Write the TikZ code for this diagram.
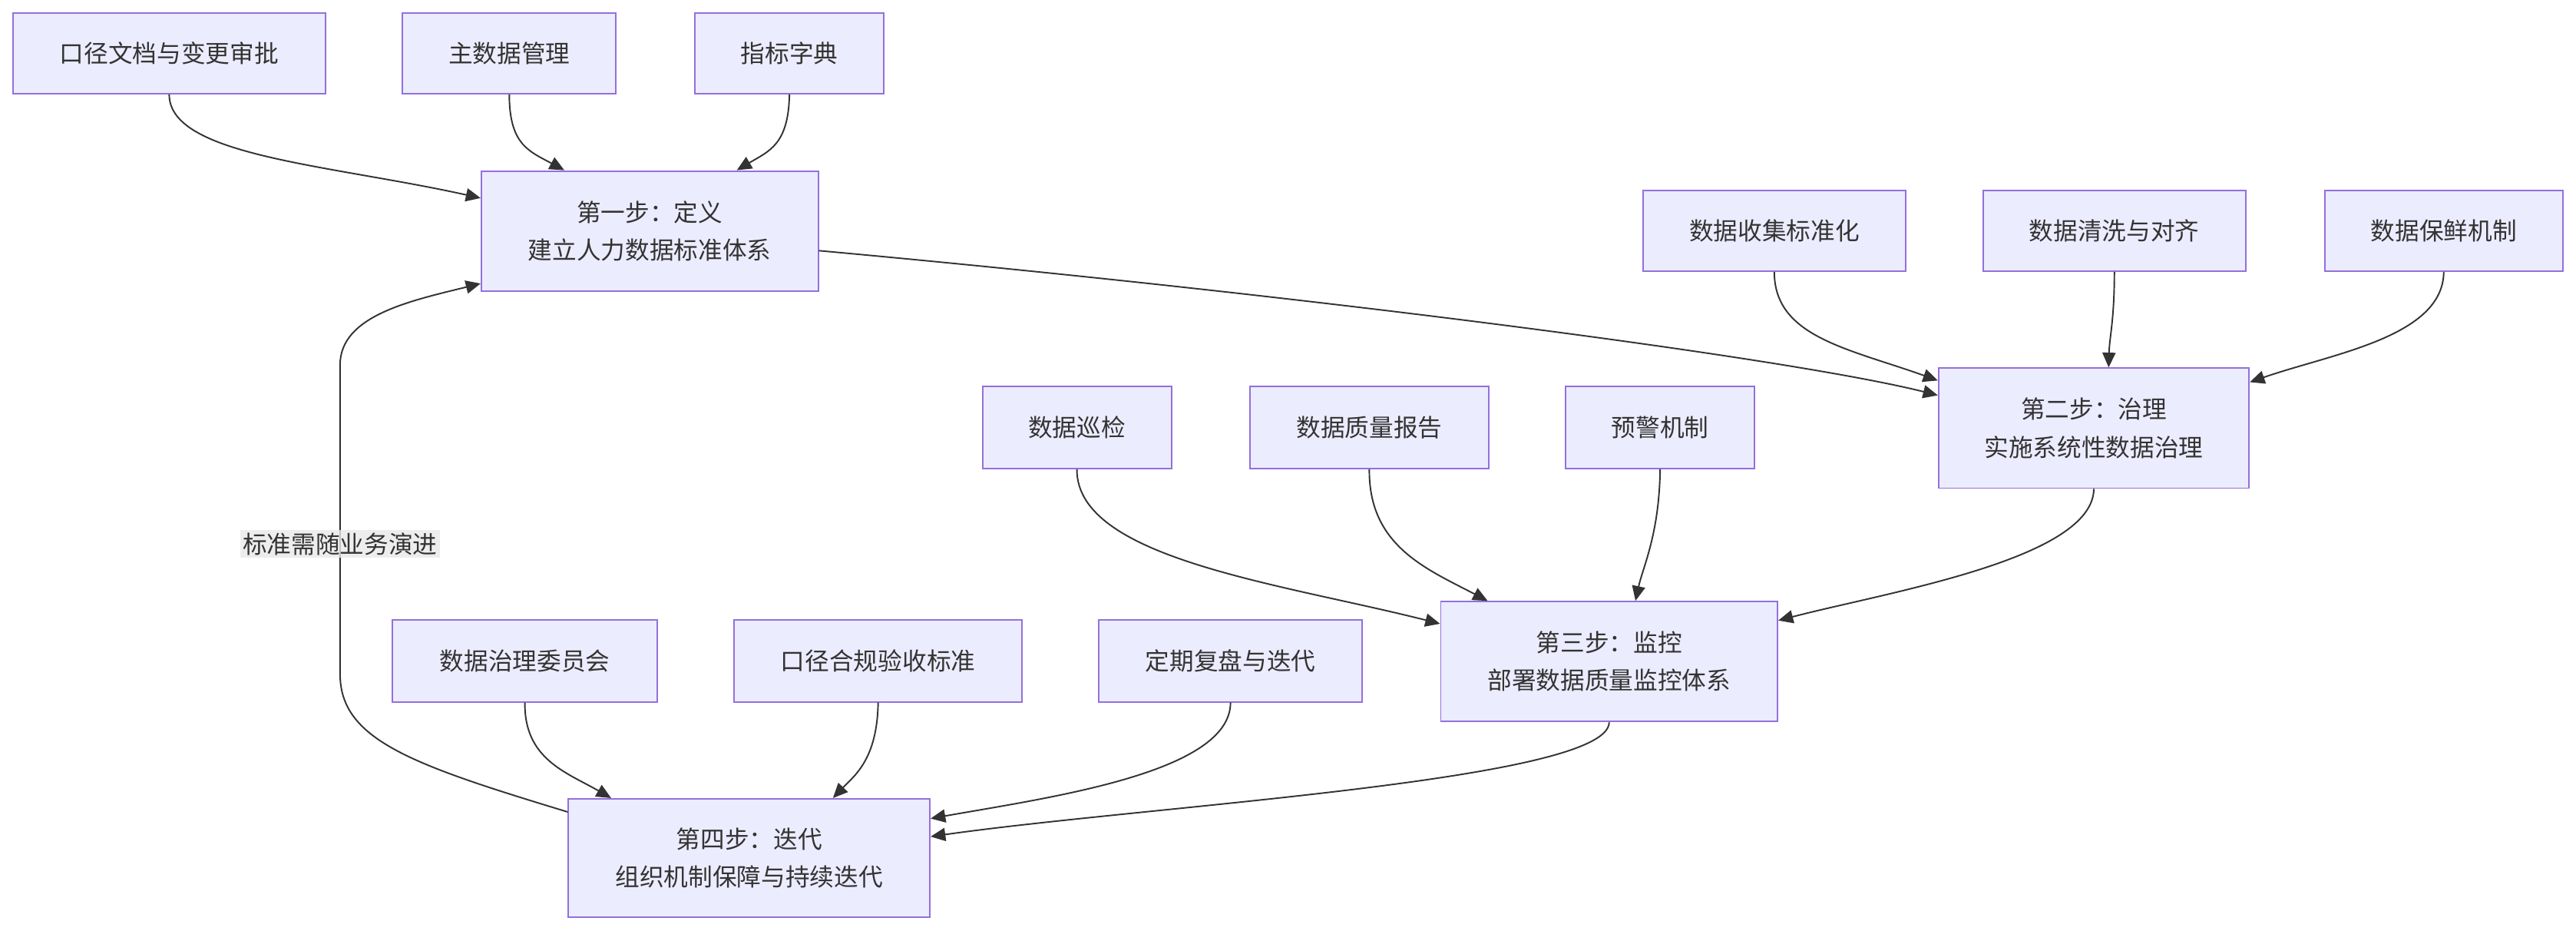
\documentclass[tikz,border=0pt]{standalone}
\usepackage{fontspec}
\usepackage{tikz}
\usetikzlibrary{arrows.meta}
\newfontfamily\cjk{Noto Sans CJK SC}
\definecolor{boxfill}{HTML}{ECECFF}
\definecolor{boxline}{HTML}{9370DB}
\definecolor{ink}{HTML}{333333}
\definecolor{tagfill}{HTML}{E8E8E8}

\begin{document}
\begin{tikzpicture}[x=1pt,y=-1pt,
        box/.style={draw=boxline,fill=boxfill,line width=0.9pt,text=ink,inner sep=0pt,align=center,font=\cjk\fontsize{14.8}{23}\selectfont},
        flow/.style={draw=ink,line width=0.9pt,-{Triangle[length=9pt,width=8pt]}},
        tag/.style={fill=tagfill,fill opacity=0.8,text opacity=1,text=ink,inner sep=1.5pt,font=\cjk\fontsize{14.8}{18}\selectfont}]
        \useasboundingbox (0,0) rectangle (1568,566);
        \node[box,minimum width=190pt,minimum height=49pt] (a1) at (103,32.5) {口径文档与变更审批};
        \node[box,minimum width=130pt,minimum height=49pt] (a2) at (310,32.5) {主数据管理};
        \node[box,minimum width=115pt,minimum height=49pt] (a3) at (480.5,32.5) {指标字典};
        \node[box,minimum width=205pt,minimum height=73pt] (s1) at (395.5,140.5) {第一步：定义\\建立人力数据标准体系};
        \node[box,minimum width=160pt,minimum height=49pt] (b1) at (1080,140.5) {数据收集标准化};
        \node[box,minimum width=160pt,minimum height=49pt] (b2) at (1287,140.5) {数据清洗与对齐};
        \node[box,minimum width=145pt,minimum height=49pt] (b3) at (1487.5,140.5) {数据保鲜机制};
        \node[box,minimum width=189pt,minimum height=73pt] (s2) at (1274.5,260.5) {第二步：治理\\实施系统性数据治理};
        \node[box,minimum width=115pt,minimum height=50pt] (c1) at (655.5,260) {数据巡检};
        \node[box,minimum width=145pt,minimum height=50pt] (c2) at (833.5,260) {数据质量报告};
        \node[box,minimum width=115pt,minimum height=50pt] (c3) at (1010.5,260) {预警机制};
        \node[box,minimum width=205pt,minimum height=73pt] (s3) at (979.5,402.5) {第三步：监控\\部署数据质量监控体系};
        \node[box,minimum width=161pt,minimum height=50pt] (d1) at (319.5,402) {数据治理委员会};
        \node[box,minimum width=175pt,minimum height=50pt] (d2) at (534.5,402) {口径合规验收标准};
        \node[box,minimum width=160pt,minimum height=50pt] (d3) at (749,402) {定期复盘与迭代};
        \node[box,minimum width=220pt,minimum height=72pt] (s4) at (456,522) {第四步：迭代\\组织机制保障与持续迭代};
        \draw[flow] (a1.south) .. controls (103,95) and (200,100) .. ([yshift=20pt]s1.west);
        \draw[flow] (a2.south) .. controls (310,88) and (322,92) .. ([xshift=-52pt]s1.north);
        \draw[flow] (a3.south) .. controls (480,88) and (468,92) .. ([xshift=53pt]s1.north);
        \draw[flow] ([yshift=-12pt]s1.east) .. controls (800,180) and (1090,218) .. ([yshift=20pt]s2.west);
        \draw[flow] (b1.south) .. controls (1080,205) and (1125,212) .. ([yshift=29pt]s2.west);
        \draw[flow] (b2.south) .. controls (1287,195) and (1284,205) .. ([xshift=9pt]s2.north);
        \draw[flow] (b3.south) .. controls (1487,205) and (1420,215) .. ([yshift=28pt]s2.east);
        \draw[flow] (s2.south) .. controls (1274,340) and (1150,360) .. ([yshift=25pt]s3.east);
        \draw[flow] (c1.south) .. controls (655,340) and (780,355) .. ([yshift=23pt]s3.west);
        \draw[flow] (c2.south) .. controls (833,332) and (868,346) .. ([xshift=-74pt]s3.north);
        \draw[flow] (c3.south) .. controls (1010,325) and (1000,345) .. ([xshift=16pt]s3.north);
        \draw[flow] (s3.south) .. controls (979,475) and (700,490) .. ([yshift=13pt]s4.east);
        \draw[flow] (d1.south) .. controls (319,462) and (345,470) .. ([xshift=-84pt]s4.north);
        \draw[flow] (d2.south) .. controls (534,462) and (520,472) .. ([xshift=51pt]s4.north);
        \draw[flow] (d3.south) .. controls (749,470) and (640,485) .. ([yshift=24pt]s4.east);
        \draw[flow] ([yshift=28pt]s4.west) .. controls (250,465) and (207,450) .. (207,410) -- (207,222) .. controls (207,192) and (250,183) .. ([yshift=-32pt]s1.west);
        \node[tag] (evolve) at (207,331) {标准需随业务演进};
\end{tikzpicture}
\end{document}
